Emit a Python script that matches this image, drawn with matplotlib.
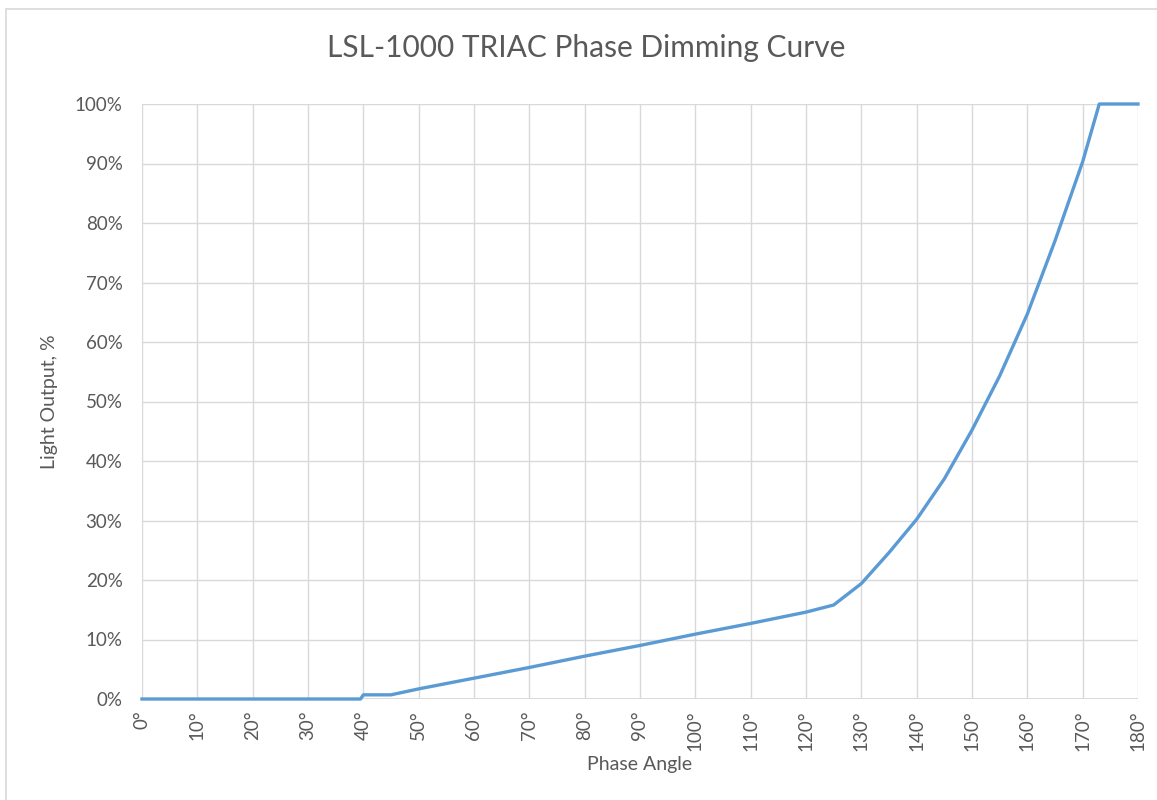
import matplotlib
matplotlib.use("Agg")
import matplotlib.pyplot as plt
from matplotlib.patches import Rectangle
from matplotlib.ticker import FuncFormatter

# phase angle (deg) vs light output (%)
angle = [0, 10, 20, 30, 39.5, 40, 45, 50, 60, 70, 80, 90, 100, 110, 120, 125,
         130, 135, 140, 145, 150, 155, 160, 165, 170, 173, 180]
output = [0, 0, 0, 0, 0, 0.7, 0.7, 1.7, 3.5, 5.3, 7.2, 9.0, 10.9, 12.7, 14.6, 15.8,
          19.4, 24.6, 30.2, 37.0, 45.2, 54.3, 64.7, 77.0, 90.3, 100, 100]

grey = "#595959"
grid = "#d9d9d9"
plt.rcParams['font.family'] = ['Lato', 'DejaVu Sans']

fig = plt.figure(figsize=(11.57, 8.0), dpi=100)
ax = fig.add_axes([142 / 1157, 1 - 699 / 800, (1138 - 142) / 1157, (699 - 104) / 800])

ax.plot(angle, output, color="#5b9bd5", linewidth=2.4, solid_joinstyle="round", clip_on=False, zorder=3)

ax.set_xlim(0, 180)
ax.set_ylim(0, 100)
ax.set_xticks(range(0, 181, 10))
ax.set_yticks(range(0, 101, 10))
ax.xaxis.set_major_formatter(FuncFormatter(lambda v, p: f"{v:.0f}°"))
ax.yaxis.set_major_formatter(FuncFormatter(lambda v, p: f"{v:.0f}%"))
ax.tick_params(axis="x", rotation=90, pad=8)
ax.tick_params(axis="y", pad=14)
ax.tick_params(colors=grey, labelsize=13.5, length=0)
ax.grid(True, color=grid, linewidth=1)
for s in ax.spines.values():
    s.set_visible(False)
ax.axhline(0, color=grid, linewidth=1.3, zorder=1)

ax.set_xlabel("Phase Angle", color=grey, fontsize=14, labelpad=4)
ax.set_ylabel("Light Output, %", color=grey, fontsize=14, labelpad=12)
fig.text(586 / 1157, 1 - 48 / 800, "LSL-1000 TRIAC Phase Dimming Curve", color=grey,
         fontsize=21.5, ha="center", va="center")

fig.patches.append(Rectangle((6 / 1157, -0.1), 1.1, 1 - 9 / 800 + 0.1, transform=fig.transFigure,
                             fill=False, edgecolor=grid, linewidth=1.2))

fig.savefig("out.png", dpi=100, facecolor="white")
